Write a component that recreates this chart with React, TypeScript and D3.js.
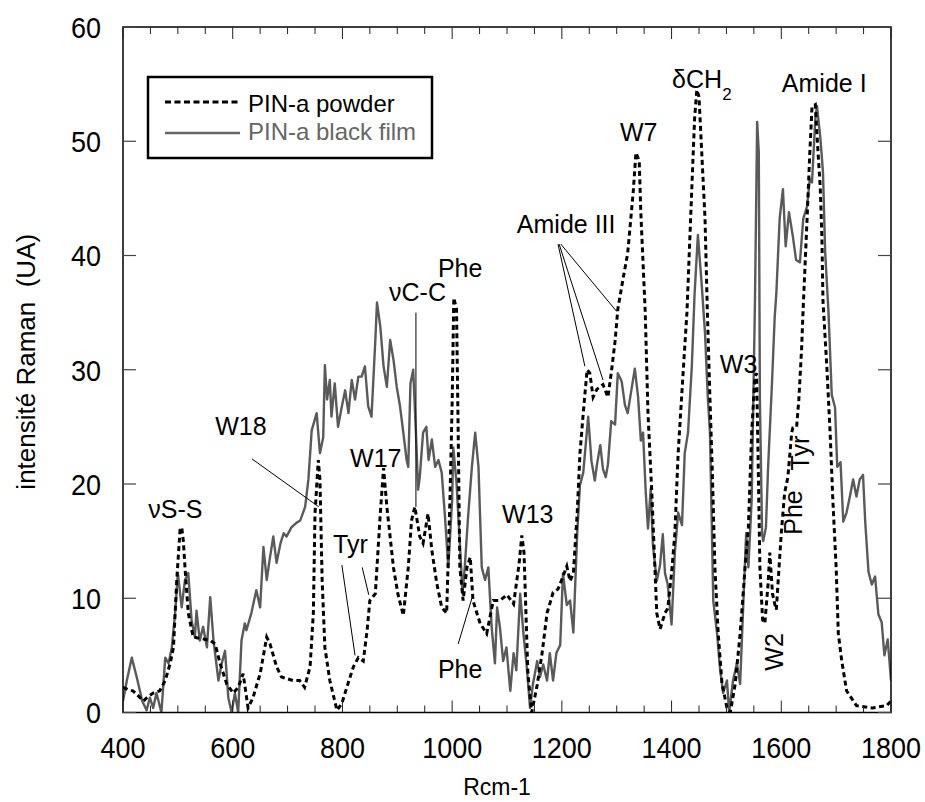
import React from 'react';
import * as d3 from 'd3';

// ---------- data ----------
const xTickValues = [400, 600, 800, 1000, 1200, 1400, 1600, 1800];
const yTickValues = [0, 10, 20, 30, 40, 50, 60];
const seriesNames = ['PIN-a powder', 'PIN-a black film'];

// [wavenumber (cm-1), intensity (UA)]
const powder: [number, number][] = [
  [400, 2.2], [409, 2.0], [418, 1.9], [427, 1.5], [437, 1.0], [446, 1.4], [455, 1.7], [467, 1.9],
  [477, 2.8], [486, 4.3], [492, 5.7], [498, 11.6], [504, 16.0], [507, 16.2], [510, 15.0], [513, 12.7],
  [519, 8.7], [528, 6.6], [540, 6.5], [559, 6.3], [568, 6.0], [577, 4.3], [589, 2.5], [601, 1.7],
  [610, 2.2], [619, 3.4], [628, 0.4], [637, 1.3], [650, 3.4], [662, 6.6], [668, 6.0], [680, 4.0],
  [689, 3.1], [710, 2.8], [722, 2.8], [731, 2.2], [741, 4.0], [747, 8.7], [750, 17.4], [756, 22.1],
  [759, 20.4], [763, 11.6], [768, 5.7], [777, 2.8], [790, 0.2], [799, 0.8], [808, 2.2], [820, 4.0],
  [829, 4.8], [838, 4.5], [845, 7.2], [850, 9.8], [860, 10.4], [869, 17.4], [875, 21.4], [881, 18.0],
  [893, 12.7], [901, 10.4], [911, 8.5], [920, 12.7], [926, 16.8], [932, 18.0], [941, 15.4], [947, 14.8],
  [956, 17.4], [963, 14.2], [972, 11.3], [981, 9.2], [990, 8.7], [996, 18.6], [1000, 27.0], [1003, 36.3],
  [1008, 35.3], [1011, 24.5], [1014, 12.7], [1020, 9.8], [1027, 12.7], [1033, 13.6], [1038, 9.8], [1051, 7.8],
  [1063, 6.9], [1075, 9.8], [1087, 9.8], [1100, 10.3], [1112, 9.5], [1122, 13.0], [1127, 15.5], [1131, 14.0],
  [1138, 3.5], [1145, 0.0], [1155, 2.4], [1164, 5.2], [1173, 8.7], [1184, 10.5], [1193, 10.8], [1202, 11.9],
  [1209, 12.8], [1215, 11.5], [1221, 12.2], [1228, 17.5], [1233, 22.7], [1239, 26.2], [1246, 30.0], [1251, 29.7],
  [1257, 27.6], [1264, 28.3], [1275, 28.7], [1284, 27.6], [1290, 29.7], [1297, 32.5], [1302, 35.3], [1311, 37.8],
  [1320, 40.2], [1330, 45.5], [1335, 49.0], [1341, 48.3], [1344, 43.7], [1352, 35.0], [1357, 26.2], [1364, 19.2],
  [1370, 12.2], [1373, 8.7], [1379, 7.3], [1388, 8.7], [1393, 9.1], [1400, 12.2], [1406, 15.7], [1412, 22.7],
  [1421, 29.7], [1428, 35.0], [1437, 46.0], [1442, 52.0], [1446, 54.5], [1450, 53.9], [1455, 49.0], [1461, 43.2],
  [1465, 35.5], [1470, 27.4], [1474, 21.5], [1479, 12.7], [1485, 6.9], [1492, 2.5], [1501, 0.4], [1507, 0.0],
  [1516, 2.5], [1525, 6.9], [1534, 12.7], [1540, 16.2], [1546, 24.5], [1552, 29.4], [1555, 29.7], [1558, 21.5],
  [1561, 12.7], [1566, 8.1], [1570, 7.8], [1576, 11.3], [1579, 14.0], [1584, 10.4], [1588, 9.5], [1591, 9.0],
  [1594, 11.3], [1600, 15.7], [1606, 19.2], [1612, 20.6], [1619, 24.5], [1621, 24.9], [1628, 25.0], [1632, 27.4],
  [1637, 31.8], [1640, 35.5], [1647, 43.2], [1652, 49.0], [1656, 53.0], [1662, 53.2], [1667, 49.0], [1671, 46.0],
  [1674, 41.7], [1676, 36.0], [1683, 30.3], [1689, 24.5], [1694, 18.6], [1700, 12.7], [1704, 6.9], [1710, 4.6],
  [1719, 1.9], [1737, 0.6], [1766, 0.4], [1792, 0.6], [1800, 1.0],
];

const blackFilm: [number, number][] = [
  [400, 1.0], [407, 2.8], [416, 4.8], [425, 3.1], [435, 1.0], [443, 0.2], [449, 1.3], [455, 0.4],
  [461, 1.7], [470, 0.0], [477, 4.8], [483, 4.3], [489, 5.7], [495, 8.7], [500, 12.2], [507, 9.2],
  [513, 11.6], [519, 12.2], [525, 8.1], [531, 6.6], [534, 8.9], [540, 6.3], [546, 7.5], [553, 5.7],
  [559, 10.1], [565, 6.3], [574, 2.8], [580, 4.3], [586, 5.4], [592, 1.3], [598, 0.0], [604, 1.7],
  [610, 0.0], [616, 6.3], [622, 7.8], [625, 7.2], [634, 8.7], [643, 10.7], [650, 9.2], [656, 14.5],
  [662, 11.6], [668, 13.6], [674, 15.4], [680, 13.1], [687, 14.8], [693, 15.7], [698, 15.4], [707, 16.2],
  [716, 16.6], [723, 16.8], [732, 18.0], [738, 20.4], [744, 24.7], [753, 26.2], [759, 22.7], [765, 24.1],
  [768, 30.4], [772, 27.4], [777, 29.1], [780, 25.9], [786, 28.8], [792, 25.0], [799, 26.8], [805, 28.2],
  [811, 26.2], [817, 29.1], [823, 27.4], [829, 29.4], [835, 29.4], [841, 30.3], [847, 26.8], [853, 25.9],
  [860, 32.6], [863, 35.9], [869, 33.8], [875, 30.3], [881, 28.5], [887, 32.6], [893, 30.9], [899, 28.5],
  [905, 26.8], [911, 24.5], [917, 22.1], [920, 21.5], [924, 28.8], [929, 30.0], [934, 24.5], [938, 19.5],
  [941, 20.6], [947, 24.5], [953, 25.0], [957, 22.1], [963, 23.9], [969, 21.5], [975, 22.1], [981, 21.0],
  [987, 17.1], [993, 12.7], [1000, 18.6], [1002, 23.2], [1008, 20.1], [1013, 15.7], [1019, 10.4], [1023, 12.7],
  [1029, 17.1], [1036, 21.5], [1042, 24.5], [1048, 21.5], [1054, 12.7], [1060, 11.6], [1066, 12.7], [1072, 7.5],
  [1078, 4.3], [1082, 9.2], [1087, 7.5], [1093, 4.5], [1099, 5.7], [1106, 1.9], [1112, 5.2], [1117, 3.7],
  [1124, 10.4], [1130, 6.9], [1136, 4.0], [1142, 0.4], [1147, 2.4], [1155, 4.5], [1160, 3.1], [1166, 4.2],
  [1173, 2.8], [1178, 5.2], [1184, 2.8], [1190, 5.2], [1197, 5.9], [1202, 12.2], [1209, 9.4], [1215, 9.8],
  [1221, 7.0], [1228, 15.7], [1233, 19.9], [1239, 21.0], [1248, 25.9], [1254, 22.0], [1260, 20.3], [1264, 21.7],
  [1270, 23.4], [1275, 21.3], [1280, 20.6], [1284, 21.7], [1290, 25.5], [1297, 25.2], [1302, 29.7], [1309, 29.0],
  [1315, 26.9], [1320, 26.2], [1327, 28.3], [1333, 30.1], [1339, 27.6], [1344, 23.8], [1348, 24.5], [1353, 19.2],
  [1357, 16.1], [1362, 19.6], [1366, 14.7], [1373, 11.5], [1379, 12.9], [1384, 15.6], [1388, 12.2], [1393, 11.2],
  [1400, 7.7], [1406, 14.0], [1412, 17.5], [1419, 16.4], [1424, 22.7], [1430, 24.5], [1437, 30.4], [1442, 36.7],
  [1448, 41.8], [1455, 37.4], [1461, 33.2], [1466, 27.6], [1470, 24.5], [1476, 9.8], [1483, 6.9], [1488, 4.0],
  [1494, 1.7], [1501, 2.8], [1505, 0.0], [1512, 2.8], [1519, 4.3], [1525, 2.5], [1531, 9.8], [1536, 15.7],
  [1540, 12.7], [1546, 18.6], [1552, 36.0], [1556, 51.7], [1559, 49.0], [1561, 27.4], [1565, 15.7], [1567, 15.0],
  [1572, 16.2], [1576, 21.5], [1583, 28.8], [1588, 34.6], [1591, 36.7], [1597, 43.2], [1603, 45.8], [1608, 40.8],
  [1614, 43.8], [1621, 41.7], [1627, 39.6], [1634, 39.4], [1640, 43.2], [1647, 44.3], [1652, 46.7], [1656, 46.4],
  [1662, 51.9], [1665, 53.1], [1671, 50.4], [1676, 47.3], [1680, 40.3], [1686, 35.1], [1692, 27.8], [1698, 26.7],
  [1702, 21.5], [1708, 21.9], [1713, 16.7], [1719, 17.5], [1725, 18.9], [1731, 20.4], [1737, 18.9], [1743, 20.4],
  [1749, 20.8], [1753, 16.7], [1759, 12.3], [1765, 11.2], [1771, 11.9], [1777, 8.6], [1783, 7.9], [1788, 5.0],
  [1794, 6.4], [1800, 2.8],
];

// band assignments: text, anchor (wavenumber, intensity)
const bandLabels: { text: string; at: [number, number]; rotate?: boolean }[] = [
  { text: 'νS-S', at: [446, 17.0] },
  { text: 'W18', at: [568, 24.3] },
  { text: 'W17', at: [814, 21.5] },
  { text: 'Tyr', at: [783, 14.0] },
  { text: 'νC-C', at: [885, 36.0] },
  { text: 'Phe', at: [974, 38.1] },
  { text: 'Phe', at: [974, 3.0] },
  { text: 'W13', at: [1091, 16.6] },
  { text: 'Amide III', at: [1118, 42.0] },
  { text: 'W7', at: [1306, 50.0] },
  { text: 'Amide I', at: [1601, 54.3] },
  { text: 'W3', at: [1488, 29.7] },
  { text: 'W2', at: [1603, 5.3], rotate: true },
  { text: 'Phe', at: [1638, 17.5], rotate: true },
  { text: 'Tyr', at: [1651, 22.7], rotate: true },
];

// leader lines: [from, to] in data units
const leaders: [[number, number], [number, number]][] = [
  [[635, 22.2], [757, 18.0]],
  [[799, 12.9], [823, 5.0]],
  [[836, 12.7], [848, 10.3]],
  [[934, 35.0], [934, 18.0]],
  [[1011, 6.0], [1036, 10.0]],
  [[1193, 41.0], [1242, 30.3]],
  [[1195, 41.0], [1275, 29.1]],
  [[1198, 41.0], [1300, 35.1]],
];

const FONT = '"Liberation Sans", Arial, Helvetica, sans-serif';

export default function App() {
  const W = 925;
  const H = 802;
  const left = 123, right = 891, top = 27, bottom = 712.5;
  const x = d3.scaleLinear().domain([400, 1800]).range([left, right]);
  const y = d3.scaleLinear().domain([0, 60]).range([bottom, top]);
  const line = d3.line<[number, number]>().x((d) => x(d[0])).y((d) => y(d[1]));

  const minorX = d3.range(400, 1801, 50);

  return (
    <svg
      width={W}
      height={H}
      viewBox={`0 0 ${W} ${H}`}
      style={{ position: 'absolute', left: 0, top: 0, background: '#fff', display: 'block' }}
      fontFamily={FONT}
    >
      <defs>
        <clipPath id="plotClip">
          <rect x={left} y={top} width={right - left} height={bottom - top} />
        </clipPath>
      </defs>

      {/* series */}
      <g clipPath="url(#plotClip)">
        <path d={line(blackFilm) || ''} fill="none" stroke="#5a5a5a" strokeWidth={2.4} strokeLinejoin="round" />
        <path d={line(powder) || ''} fill="none" stroke="#000" strokeWidth={3} strokeDasharray="5 3.5" />
      </g>

      {/* frame */}
      <rect x={left} y={top} width={right - left} height={bottom - top} fill="none" stroke="#000" strokeWidth={1.5} />

      {/* x ticks (inward, top & bottom) */}
      {minorX.map((v) => {
        const major = v % 200 === 0;
        const len = major ? 12 : 7;
        return (
          <g key={'xt' + v} stroke="#222" strokeWidth={1}>
            <line x1={x(v)} x2={x(v)} y1={bottom} y2={bottom - len} />
            <line x1={x(v)} x2={x(v)} y1={top} y2={top + len} />
          </g>
        );
      })}
      {/* y ticks (inward, left & right) */}
      {yTickValues.map((v) => (
        <g key={'yt' + v} stroke="#444" strokeWidth={1.2}>
          <line x1={left} x2={left + 13} y1={y(v)} y2={y(v)} />
          <line x1={right} x2={right - 13} y1={y(v)} y2={y(v)} />
        </g>
      ))}

      {/* tick labels */}
      {xTickValues.map((v) => (
        <text
          key={'xl' + v}
          transform={`translate(${x(v)}, 758) scale(0.9, 1)`}
          textAnchor="middle"
          fontSize={30}
          fill="#000"
        >
          {v}
        </text>
      ))}
      {yTickValues.map((v) => (
        <text
          key={'yl' + v}
          transform={`translate(101, ${y(v) + 10.8}) scale(0.9, 1)`}
          textAnchor="end"
          fontSize={30}
          fill="#000"
        >
          {v}
        </text>
      ))}

      {/* axis titles */}
      <text x={(left + right) / 2 - 10} y={795} textAnchor="middle" fontSize={23} fill="#000">
        Rcm-1
      </text>
      <text
        transform={`translate(35, ${(top + bottom) / 2 - 8}) rotate(-90)`}
        textAnchor="middle"
        fontSize={26}
        fill="#000"
        style={{ whiteSpace: 'pre' }}
      >
        {'intensité Raman  (UA)'}
      </text>

      {/* leader lines */}
      {leaders.map(([a, b], i) => (
        <line key={'ld' + i} x1={x(a[0])} y1={y(a[1])} x2={x(b[0])} y2={y(b[1])} stroke="#000" strokeWidth={1} />
      ))}

      {/* band labels */}
      {bandLabels.map((l, i) =>
        l.rotate ? (
          <text
            key={'bl' + i}
            transform={`translate(${x(l.at[0])}, ${y(l.at[1])}) rotate(-90)`}
            textAnchor="middle"
            fontSize={25}
            fill="#000"
          >
            {l.text}
          </text>
        ) : (
          <text key={'bl' + i} x={x(l.at[0])} y={y(l.at[1])} fontSize={25} fill="#000" style={{ whiteSpace: 'pre' }}>
            {l.text}
          </text>
        )
      )}
      {/* δCH2 with subscript */}
      <text x={x(1401)} y={y(54.7)} fontSize={25} fill="#000">
        δCH
        <tspan fontSize={17} dy={12}>2</tspan>
      </text>

      {/* legend */}
      <rect x={148} y={77} width={284} height={81} fill="#fff" stroke="#000" strokeWidth={2.5} />
      <line x1={165} x2={239} y1={102} y2={102} stroke="#000" strokeWidth={3} strokeDasharray="6 3.5" />
      <text x={248} y={112} fontSize={24} fill="#000">{seriesNames[0]}</text>
      <line x1={165} x2={240} y1={133} y2={133} stroke="#666" strokeWidth={2.4} />
      <text x={248} y={140} fontSize={24} fill="#666">{seriesNames[1]}</text>
    </svg>
  );
}
